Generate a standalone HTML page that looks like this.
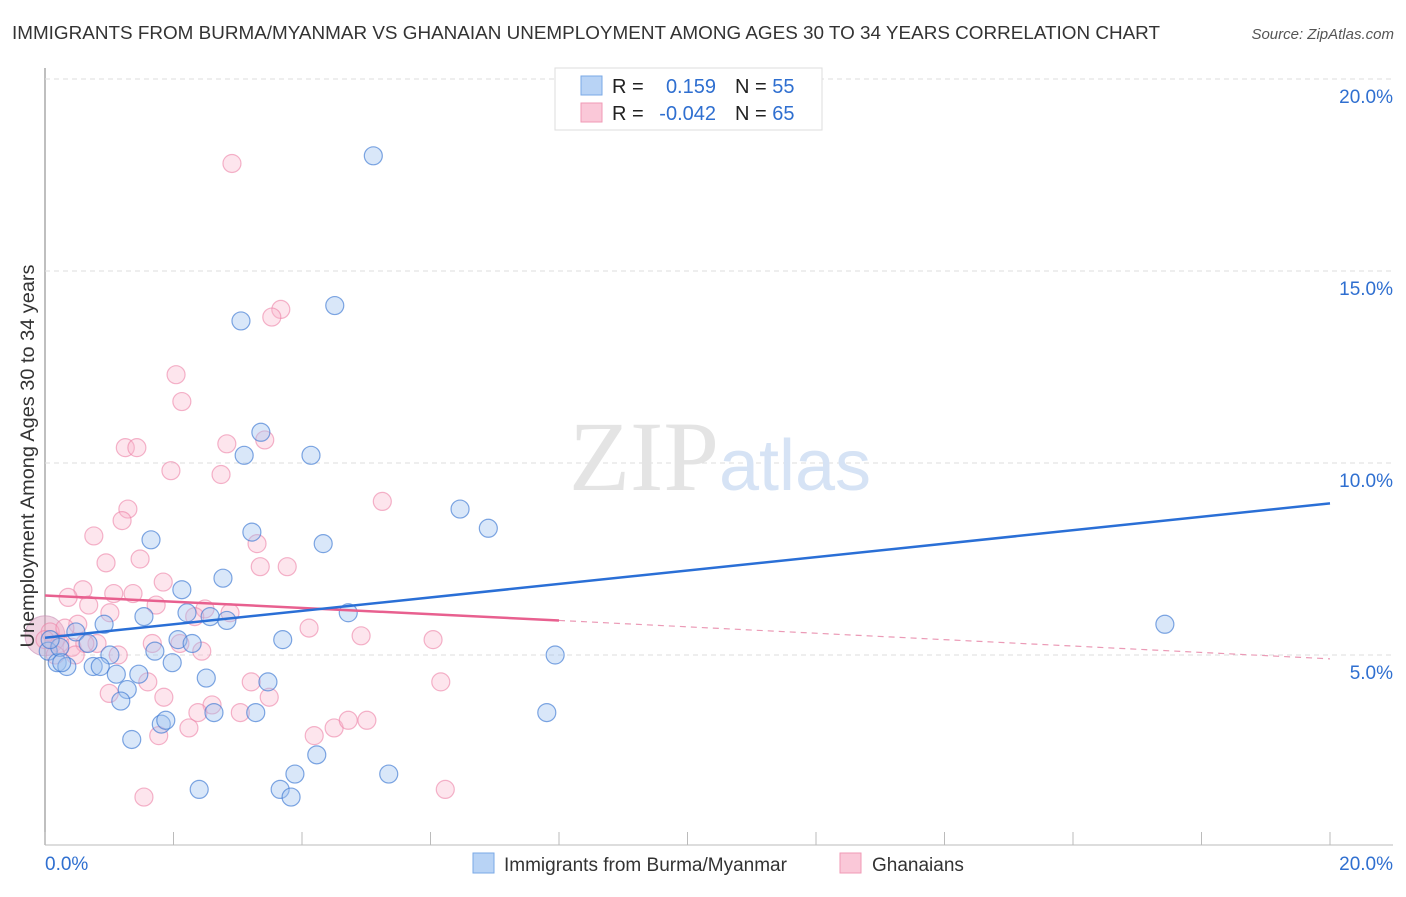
<!DOCTYPE html>
<html><head><meta charset="utf-8"><style>
body{margin:0;background:#fff;font-family:"Liberation Sans",sans-serif;}
</style></head><body>
<svg id="chart" width="1406" height="892" xmlns="http://www.w3.org/2000/svg" font-family="Liberation Sans, sans-serif">
<text x="12" y="39" font-size="18.5" fill="#333" textLength="1148" lengthAdjust="spacingAndGlyphs">IMMIGRANTS FROM BURMA/MYANMAR VS GHANAIAN UNEMPLOYMENT AMONG AGES 30 TO 34 YEARS CORRELATION CHART</text>
<text x="1394" y="39" font-size="15" fill="#555" font-style="italic" text-anchor="end">Source: ZipAtlas.com</text>
<g id="grid"></g>
<text x="720" y="490" font-size="100" fill="#e4e4e4" text-anchor="middle" font-family="Liberation Serif, serif">ZIP<tspan fill="#d6e3f5" font-family="Liberation Sans, sans-serif" font-size="72">atlas</tspan></text>
<g id="points"></g>
<g id="lines"></g>
<text transform="translate(34,456) rotate(-90)" font-size="19" fill="#333" text-anchor="middle" textLength="383" lengthAdjust="spacingAndGlyphs">Unemployment Among Ages 30 to 34 years</text>
<g>
<rect x="555" y="68" width="267" height="62" fill="#fff" stroke="#ddd"/>
<rect x="581" y="76" width="21" height="19" fill="#b8d3f5" stroke="#7aa8e6"/>
<rect x="581" y="103" width="21" height="19" fill="#fac8d8" stroke="#f09ab6"/>
<text x="612" y="93" font-size="20" fill="#222">R =</text>
<text x="716" y="93" font-size="20" fill="#2f6fd0" text-anchor="end">0.159</text>
<text x="735" y="93" font-size="20" fill="#222">N = <tspan fill="#2f6fd0">55</tspan></text>
<text x="612" y="120" font-size="20" fill="#222">R =</text>
<text x="716" y="120" font-size="20" fill="#2f6fd0" text-anchor="end">-0.042</text>
<text x="735" y="120" font-size="20" fill="#222">N = <tspan fill="#2f6fd0">65</tspan></text>
</g>
<g>
<rect x="473" y="853" width="21" height="20" fill="#b8d3f5" stroke="#7aa8e6"/>
<text x="504" y="871" font-size="19" fill="#333">Immigrants from Burma/Myanmar</text>
<rect x="840" y="853" width="21" height="20" fill="#fac8d8" stroke="#f09ab6"/>
<text x="872" y="871" font-size="19" fill="#333">Ghanaians</text>
</g>
<text x="45" y="870" font-size="19" fill="#2f6fd0">0.0%</text>
<text x="1393" y="870" font-size="19" fill="#2f6fd0" text-anchor="end">20.0%</text>
</svg>
<script>
const yTicks=[5,10,15,20];
const yTickLabels=["5.0%","10.0%","15.0%","20.0%"];
const blueX=[5.11,4.51,3.05,3.36,3.10,4.14,6.46,6.90,3.22,1.65,4.33,2.77,2.13,2.21,1.54,4.72,2.83,2.57,0.92,17.43,0.48,2.07,2.29,3.70,0.67,1.01,1.71,0.05,7.94,0.19,1.98,0.34,0.75,0.86,1.11,1.46,2.51,3.47,1.28,1.18,2.63,3.28,7.81,1.81,1.88,1.35,4.23,3.89,5.35,2.40,3.66,3.83,0.23,0.08,0.26];
const blueY=[18.0,14.1,13.7,10.8,10.2,10.2,8.8,8.3,8.2,8.0,7.9,7.0,6.7,6.1,6.0,6.1,5.9,6.0,5.8,5.8,5.6,5.4,5.3,5.4,5.3,5.0,5.1,5.1,5.0,4.8,4.8,4.7,4.7,4.7,4.5,4.5,4.4,4.3,4.1,3.8,3.5,3.5,3.5,3.2,3.3,2.8,2.4,1.9,1.9,1.5,1.5,1.3,5.2,5.4,4.8];
const pinkX=[2.91,3.67,3.53,2.04,2.13,3.42,2.83,1.25,1.43,1.96,2.74,5.25,1.29,1.20,0.76,3.30,1.48,0.95,3.77,3.35,1.84,0.59,0.36,1.07,1.37,0.68,1.73,2.49,2.33,0.51,4.11,4.92,1.67,6.04,0.81,0.42,2.10,1.14,2.44,0.08,0.23,0.00,0.16,1.60,3.21,6.16,1.00,1.85,3.49,2.60,2.38,3.04,2.24,4.50,4.72,5.01,1.77,4.19,6.23,1.54,0.31,1.01,2.88,0.62,0.47];
const pinkY=[17.8,14.0,13.8,12.3,11.6,10.6,10.5,10.4,10.4,9.8,9.7,9.0,8.8,8.5,8.1,7.9,7.5,7.4,7.3,7.3,6.9,6.7,6.5,6.6,6.6,6.3,6.3,6.2,6.0,5.8,5.7,5.5,5.3,5.4,5.3,5.2,5.3,5.0,5.1,5.6,5.3,5.4,5.0,4.3,4.3,4.3,4.0,3.9,3.9,3.7,3.5,3.5,3.1,3.1,3.3,3.3,2.9,2.9,1.5,1.3,5.7,6.1,6.1,5.3,5.0];
const blueTrend=[[0,5.45],[20,8.95]];
const pinkTrendSolid=[[0,6.55],[8.0,5.9]];
const pinkTrendDash=[[8.0,5.9],[20,4.9]];
const NS="http://www.w3.org/2000/svg";
const X0=45,X1=1330,Y0=847,PXY=38.4;
function sx(v){return X0+v*(X1-X0)/20;}
function sy(v){return Y0-v*PXY;}
function mk(t,a,p){const e=document.createElementNS(NS,t);for(const k in a)e.setAttribute(k,a[k]);p.appendChild(e);return e;}
const grid=document.getElementById('grid');
mk('line',{x1:45,y1:68,x2:45,y2:845,stroke:'#aaa','stroke-width':1.5},grid);
mk('line',{x1:45,y1:845,x2:1393,y2:845,stroke:'#bbb'},grid);
for(let i=0;i<=10;i++){const l=mk('line',{x1:sx(i*2),y1:832,x2:sx(i*2),y2:845,stroke:'#bbb'},grid);
 
 }
yTicks.forEach((v,i)=>{
 const l=mk('line',{x1:45,y1:sy(v),x2:1393,y2:sy(v),stroke:'#ddd','stroke-dasharray':'5,4'},grid);
 
 
 const t=mk('text',{x:1393,y:sy(v)+24,'font-size':19,fill:'#2f6fd0','text-anchor':'end'},grid);
 t.textContent=yTickLabels[i];
 
 
});
const pts=document.getElementById('points');
const big=mk('circle',{cx:sx(0),cy:sy(5.5),r:20,fill:'rgba(220,160,190,0.45)',stroke:'rgba(200,140,180,0.6)'},pts);


pinkX.forEach((x,i)=>{const c=mk('circle',{cx:sx(x),cy:sy(pinkY[i]),r:9,fill:'rgba(248,180,204,0.35)',stroke:'rgba(236,130,166,0.6)','stroke-width':1.2},pts);
 
 });
blueX.forEach((x,i)=>{const c=mk('circle',{cx:sx(x),cy:sy(blueY[i]),r:9,fill:'rgba(160,196,240,0.4)',stroke:'rgba(60,120,210,0.65)','stroke-width':1.2},pts);
 
 });
const ln=document.getElementById('lines');
function seg(d,col,dash,name){const l=mk('line',{x1:sx(d[0][0]),y1:sy(d[0][1]),x2:sx(d[1][0]),y2:sy(d[1][1]),stroke:col,'stroke-width':dash?1.2:2.5},ln);if(dash)l.setAttribute('stroke-dasharray','6,5');
 
 }
seg(pinkTrendSolid,'#e8608f',false,'ghanaian-trend-line');
seg(pinkTrendDash,'#eb9ab6',true,'ghanaian-trend-extension');
seg(blueTrend,'#2a6fd6',false,'burma-trend-line');
</script>
</body></html>
